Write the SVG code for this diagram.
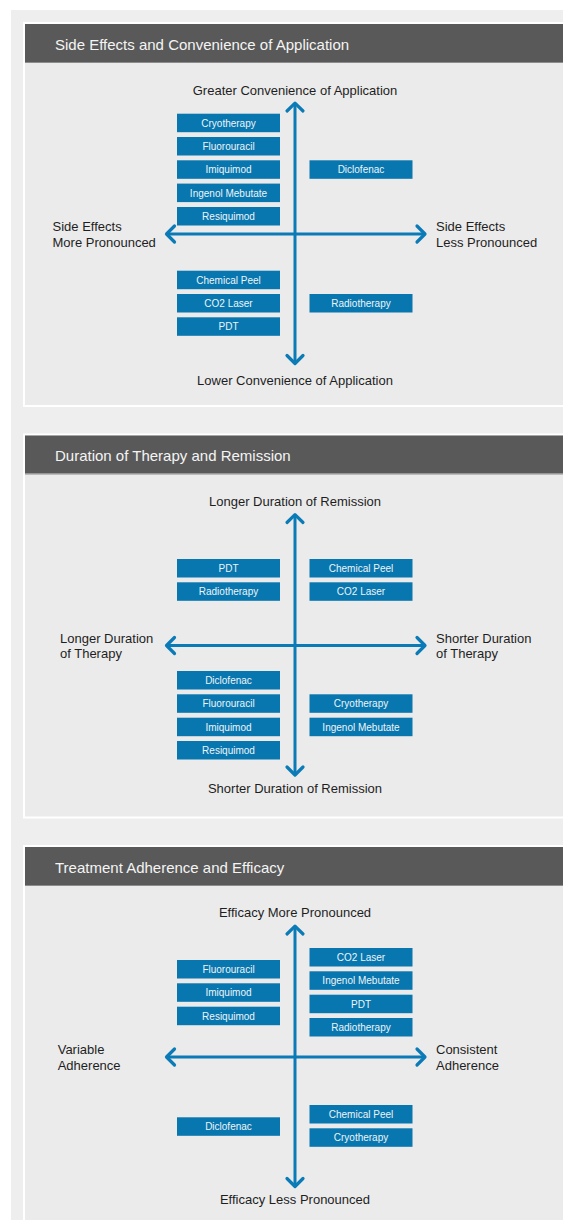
<svg xmlns="http://www.w3.org/2000/svg" width="563" height="1220" viewBox="0 0 563 1220">
<style>
.bg{fill:#eeeeee}
.frame{fill:#ffffff}
.body{fill:#ebebeb}
.hdr{fill:#595959}
.hline{fill:#8c8c8c}
.title{font-family:"Liberation Sans",Arial,Helvetica,sans-serif;font-size:15px;fill:#f4f4f4}
.lbl{font-family:"Liberation Sans",Arial,Helvetica,sans-serif;font-size:13px;fill:#1e1e1e}
.mid{text-anchor:middle}
.node rect{fill:#0877af}
.node text{font-family:"Liberation Sans",Arial,Helvetica,sans-serif;font-size:10px;fill:#eef4f8;text-anchor:middle}
.ax{stroke:#0a7bb6;stroke-width:3;fill:none}
.hd{stroke:#0a7bb6;stroke-width:3.2;fill:none;stroke-linejoin:round;stroke-linecap:round}
</style>
<defs>
<g id="frame">
<rect class="frame" x="23" y="22" width="545" height="385"/>
<rect class="body" x="25" y="24" width="543" height="381"/>
<rect class="hdr" x="25" y="24" width="543" height="38"/>
<rect class="hline" x="25" y="62" width="543" height="1"/>
</g>
<g id="axes">
<line class="ax" x1="295" y1="104" x2="295" y2="362"/>
<polyline class="hd" points="287,111 295,103.2 303,111"/>
<polyline class="hd" points="287,355.5 295,363.5 303,355.5"/>
<line class="ax" x1="168" y1="234" x2="423" y2="234"/>
<polyline class="hd" points="174.5,226 166.5,234 174.5,242"/>
<polyline class="hd" points="417,226 425,234 417,242"/>
</g>
</defs>
<rect x="0" y="0" width="563" height="1220" fill="#ffffff"/>
<rect class="bg" x="11" y="10" width="552" height="1210"/>

<!-- Panel 1 -->
<g id="panel1">
<use href="#frame"/>
<text class="title" x="55" y="49.7">Side Effects and Convenience of Application</text>
<g id="p1-connectors"><use href="#axes"/></g>
<g id="p1-top"><text class="lbl mid" x="295" y="94.6">Greater Convenience of Application</text></g>
<g id="p1-bottom"><text class="lbl mid" x="295" y="384.6">Lower Convenience of Application</text></g>
<g id="p1-left"><text class="lbl" x="52.5" y="231.3">Side Effects</text><text class="lbl" x="52.5" y="246.9">More Pronounced</text></g>
<g id="p1-right"><text class="lbl" x="436" y="231.3">Side Effects</text><text class="lbl" x="436" y="246.9">Less Pronounced</text></g>
<g id="p1-cryotherapy" class="node"><rect x="177" y="113.7" width="103" height="18.5"/><text x="228.5" y="126.6">Cryotherapy</text></g>
<g id="p1-fluorouracil" class="node"><rect x="177" y="137" width="103" height="18.5"/><text x="228.5" y="149.9">Fluorouracil</text></g>
<g id="p1-imiquimod" class="node"><rect x="177" y="160.3" width="103" height="18.5"/><text x="228.5" y="173.2">Imiquimod</text></g>
<g id="p1-ingenol" class="node"><rect x="177" y="183.6" width="103" height="18.5"/><text x="228.5" y="196.5">Ingenol Mebutate</text></g>
<g id="p1-resiquimod" class="node"><rect x="177" y="207" width="103" height="18.5"/><text x="228.5" y="219.9">Resiquimod</text></g>
<g id="p1-diclofenac" class="node"><rect x="309.5" y="160.3" width="103" height="18.5"/><text x="361" y="173.2">Diclofenac</text></g>
<g id="p1-chemicalpeel" class="node"><rect x="177" y="270.7" width="103" height="18.5"/><text x="228.5" y="283.6">Chemical Peel</text></g>
<g id="p1-co2laser" class="node"><rect x="177" y="294" width="103" height="18.5"/><text x="228.5" y="306.9">CO2 Laser</text></g>
<g id="p1-pdt" class="node"><rect x="177" y="317.3" width="103" height="18.5"/><text x="228.5" y="330.2">PDT</text></g>
<g id="p1-radiotherapy" class="node"><rect x="309.5" y="294" width="103" height="18.5"/><text x="361" y="306.9">Radiotherapy</text></g>
</g>

<!-- Panel 2 -->
<g id="panel2" transform="translate(0,411.5)">
<use href="#frame"/>
<text class="title" x="55" y="49.7">Duration of Therapy and Remission</text>
<g id="p2-connectors"><use href="#axes"/></g>
<g id="p2-top"><text class="lbl mid" x="295" y="94.3">Longer Duration of Remission</text></g>
<g id="p2-bottom"><text class="lbl mid" x="295" y="381.3">Shorter Duration of Remission</text></g>
<g id="p2-left"><text class="lbl" x="60" y="231.3">Longer Duration</text><text class="lbl" x="60" y="246.9">of Therapy</text></g>
<g id="p2-right"><text class="lbl" x="436" y="231.3">Shorter Duration</text><text class="lbl" x="436" y="246.9">of Therapy</text></g>
<g id="p2-pdt" class="node"><rect x="177" y="147.5" width="103" height="18.5"/><text x="228.5" y="160.4">PDT</text></g>
<g id="p2-radiotherapy" class="node"><rect x="177" y="170.8" width="103" height="18.5"/><text x="228.5" y="183.7">Radiotherapy</text></g>
<g id="p2-chemicalpeel" class="node"><rect x="309.5" y="147.5" width="103" height="18.5"/><text x="361" y="160.4">Chemical Peel</text></g>
<g id="p2-co2laser" class="node"><rect x="309.5" y="170.8" width="103" height="18.5"/><text x="361" y="183.7">CO2 Laser</text></g>
<g id="p2-diclofenac" class="node"><rect x="177" y="259.5" width="103" height="18.5"/><text x="228.5" y="272.4">Diclofenac</text></g>
<g id="p2-fluorouracil" class="node"><rect x="177" y="282.8" width="103" height="18.5"/><text x="228.5" y="295.7">Fluorouracil</text></g>
<g id="p2-imiquimod" class="node"><rect x="177" y="306.2" width="103" height="18.5"/><text x="228.5" y="319.1">Imiquimod</text></g>
<g id="p2-resiquimod" class="node"><rect x="177" y="329.5" width="103" height="18.5"/><text x="228.5" y="342.4">Resiquimod</text></g>
<g id="p2-cryotherapy" class="node"><rect x="309.5" y="282.8" width="103" height="18.5"/><text x="361" y="295.7">Cryotherapy</text></g>
<g id="p2-ingenol" class="node"><rect x="309.5" y="306.2" width="103" height="18.5"/><text x="361" y="319.1">Ingenol Mebutate</text></g>
</g>

<!-- Panel 3 -->
<g id="panel3" transform="translate(0,823)">
<use href="#frame"/>
<text class="title" x="55" y="49.7">Treatment Adherence and Efficacy</text>
<g id="p3-connectors"><use href="#axes"/></g>
<g id="p3-top"><text class="lbl mid" x="295" y="93.8">Efficacy More Pronounced</text></g>
<g id="p3-bottom"><text class="lbl mid" x="295" y="380.8">Efficacy Less Pronounced</text></g>
<g id="p3-left"><text class="lbl" x="57.7" y="231.3">Variable</text><text class="lbl" x="57.7" y="246.9">Adherence</text></g>
<g id="p3-right"><text class="lbl" x="436" y="231.3">Consistent</text><text class="lbl" x="436" y="246.9">Adherence</text></g>
<g id="p3-co2laser" class="node"><rect x="309.5" y="125" width="103" height="18.5"/><text x="361" y="137.9">CO2 Laser</text></g>
<g id="p3-ingenol" class="node"><rect x="309.5" y="148.3" width="103" height="18.5"/><text x="361" y="161.2">Ingenol Mebutate</text></g>
<g id="p3-pdt" class="node"><rect x="309.5" y="171.7" width="103" height="18.5"/><text x="361" y="184.6">PDT</text></g>
<g id="p3-radiotherapy" class="node"><rect x="309.5" y="195" width="103" height="18.5"/><text x="361" y="207.9">Radiotherapy</text></g>
<g id="p3-fluorouracil" class="node"><rect x="177" y="137" width="103" height="18.5"/><text x="228.5" y="149.9">Fluorouracil</text></g>
<g id="p3-imiquimod" class="node"><rect x="177" y="160.3" width="103" height="18.5"/><text x="228.5" y="173.2">Imiquimod</text></g>
<g id="p3-resiquimod" class="node"><rect x="177" y="183.7" width="103" height="18.5"/><text x="228.5" y="196.6">Resiquimod</text></g>
<g id="p3-chemicalpeel" class="node"><rect x="309.5" y="282" width="103" height="18.5"/><text x="361" y="294.9">Chemical Peel</text></g>
<g id="p3-cryotherapy" class="node"><rect x="309.5" y="305.3" width="103" height="18.5"/><text x="361" y="318.2">Cryotherapy</text></g>
<g id="p3-diclofenac" class="node"><rect x="177" y="294.3" width="103" height="18.5"/><text x="228.5" y="307.2">Diclofenac</text></g>
</g>
</svg>
